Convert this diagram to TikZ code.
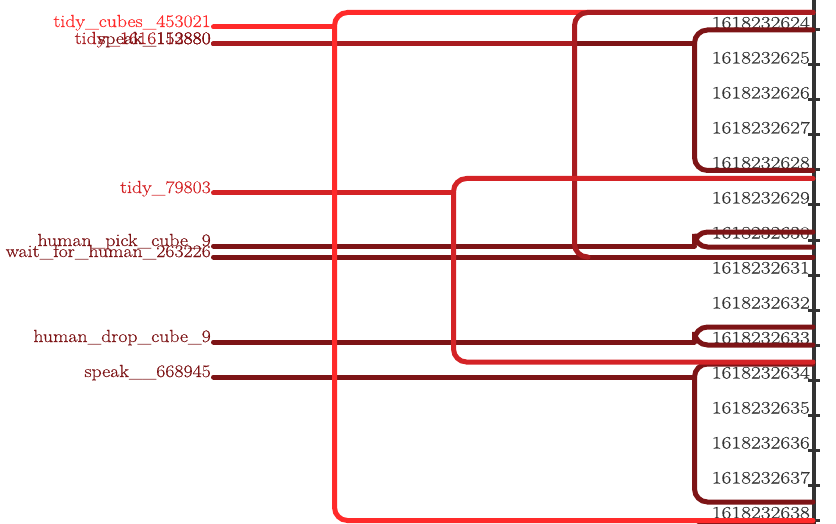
\documentclass[tikz,border=0pt]{standalone}
\usepackage{fontspec}
\setmainfont{Latin Modern Roman}[FakeStretch=1.13, FakeBold=0.4]
\newfontfamily\tickfont{Latin Modern Roman}[FakeStretch=1.22, FakeBold=0.4]
\usepackage{tikz}
\definecolor{lvla}{HTML}{FF2A2A}
\definecolor{lvlb}{HTML}{A81C20}
\definecolor{lvlc}{HTML}{D42326}
\definecolor{lvld}{HTML}{7D1416}
\definecolor{axisgray}{HTML}{333333}
\begin{document}
\begin{tikzpicture}[x=1pt,y=-1pt]
    \tikzset{every node/.append style={inner sep=0pt, anchor=base east, font=\fontsize{17.5}{19}\selectfont}}
    \tikzset{evline/.style={line width=5pt, line cap=round}}
    \tikzset{bracket/.style={line width=5pt, line cap=round, rounded corners=13pt}}
    \useasboundingbox (0,0) rectangle (836,524);
    \clip (0,0) rectangle (836,524);
    \foreach \k in {0,...,14} {
        \pgfmathtruncatemacro{\ts}{24+\k}
        \node [text=axisgray, font=\tickfont\fontsize{17.5}{19}\selectfont] (tick\k) at (810,28.5+35*\k) {16182326\ts};
    }
    \draw [axisgray, line width=3.5pt] (814,0) -- (814,524);
    \foreach \k in {0,...,14}
        \draw [axisgray, line width=3pt] (808,30+35*\k) -- (820,30+35*\k);
    \node [text=lvla] (tidycubes) at (211,27) {tidy\_cubes\_453021};
    \node [text=lvlb] (tidyb) at (211,44) {tidy\_1616113880};
    \node [text=lvld] (speaka) at (211,44) {speak\_152880};
    \node [text=lvlc] (tidyc) at (211,193) {tidy\_79803};
    \node [text=lvld] (pick) at (211,246) {human\_pick\_cube\_9};
    \node [text=lvld] (waith) at (211,257) {wait\_for\_human\_263226};
    \node [text=lvld] (drop) at (211,342) {human\_drop\_cube\_9};
    \node [text=lvld] (speakb) at (211,377) {speak\_\_668945};
    \coordinate (tidycubes-in) at (334.5,27);
    \coordinate (tidyb-in) at (574.5,44);
    \coordinate (speaka-in) at (694.5,44);
    \coordinate (tidyc-in) at (453.5,193);
    \coordinate (pick-in) at (694.5,246);
    \coordinate (waith-in) at (813,257);
    \coordinate (drop-in) at (694.5,342);
    \coordinate (speakb-in) at (694.5,377);
    \draw [evline, lvld] ([xshift=2.5pt]speaka.base east) -- (speaka-in);
    \draw [evline, lvlb] ([xshift=2.5pt]tidyb.base east) -- (tidyb-in);
    \draw [evline, lvla] ([xshift=2.5pt]tidycubes.base east) -- (tidycubes-in);
    \draw [evline, lvlc] ([xshift=2.5pt]tidyc.base east) -- (tidyc-in);
    \draw [evline, lvld] ([xshift=2.5pt]pick.base east) -- (pick-in);
    \draw [evline, lvld] ([xshift=2.5pt]waith.base east) -- (waith-in);
    \draw [evline, lvld] ([xshift=2.5pt]drop.base east) -- (drop-in);
    \draw [evline, lvld] ([xshift=2.5pt]speakb.base east) -- (speakb-in);
    \draw [bracket, lvld] (813,30) -- (694.5,30) -- (694.5,170.5) -- (813,170.5);
    \draw [bracket, lvld] (813,232) -- (694.5,232) -- (694.5,247) -- (813,247);
    \draw [bracket, lvld] (813,327) -- (694.5,327) -- (694.5,345) -- (813,345);
    \draw [bracket, lvld] (813,364) -- (694.5,364) -- (694.5,502) -- (813,502);
    \draw [bracket, lvld] (813,522) -- (694.5,522) -- (694.5,600);
    \draw [bracket, lvla] (813,12.5) -- (334.5,12.5) -- (334.5,520.5) -- (813,520.5);
    \draw [bracket, lvlb] (813,12.5) -- (574.5,12.5) -- (574.5,257) -- (588,257);
    \draw [bracket, lvlc] (813,178.5) -- (453.5,178.5) -- (453.5,362) -- (813,362);
\end{tikzpicture}
\end{document}
